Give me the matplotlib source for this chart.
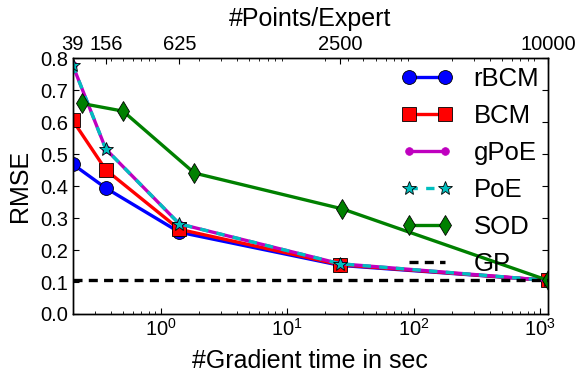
import matplotlib
matplotlib.use("Agg")
import matplotlib.pyplot as plt
from matplotlib.ticker import FixedLocator, FormatStrFormatter, NullLocator

plt.rcParams.update({
    "font.family": ["Liberation Sans", "DejaVu Sans"],
    "font.size": 14,
    "mathtext.fontset": "custom",
    "mathtext.rm": "Liberation Sans",
    "mathtext.it": "Liberation Sans:italic",
    "mathtext.bf": "Liberation Sans:bold",
    "mathtext.default": "regular",
    "xtick.direction": "in",
    "ytick.direction": "in",
    "xtick.major.size": 4,
    "xtick.minor.size": 2,
    "ytick.major.size": 4,
    "ytick.minor.size": 2,
    "xtick.labelsize": 14.5,
    "ytick.labelsize": 14.5,
    "axes.labelsize": 18,
    "legend.fontsize": 18.5,
    "lines.markeredgewidth": 0.6,
    "lines.scale_dashes": False,
    "axes.linewidth": 1.0,
})

# training time (s) per configuration, shared by the distributed GP methods
grad_time = [0.2, 0.366, 1.397, 26.3, 1157]
# subset-of-data baseline timings
sod_time = [0.236, 0.50, 1.84, 27.2, 1157]
points_per_expert = ["39", "156", "625", "2500", "10000"]

rmse_rbcm = [0.469, 0.394, 0.256, 0.152, 0.105]
rmse_bcm = [0.606, 0.451, 0.265, 0.154, 0.105]
rmse_gpoe = [0.779, 0.516, 0.282, 0.157, 0.105]
rmse_poe = [0.779, 0.516, 0.282, 0.157, 0.105]
rmse_sod = [0.659, 0.635, 0.441, 0.329, 0.105]
rmse_gp = 0.106

y_ticks = [0.0, 0.1, 0.2, 0.3, 0.4, 0.5, 0.6, 0.7, 0.8]

fig = plt.figure(figsize=(5.83, 3.72), dpi=100)
ax = fig.add_axes([0.1247, 0.156, 0.8153, 0.687])

lw = 2.4
ax.plot(grad_time, rmse_rbcm, "-", color="b", lw=lw, marker="o", ms=10,
        mfc="b", mec="k", label="rBCM")
ax.plot(grad_time, rmse_bcm, "-", color="r", lw=lw, marker="s", ms=10,
        mfc="r", mec="k", label="BCM")
ax.plot(grad_time, rmse_gpoe, "-", color="m", lw=lw, marker="o", ms=5.5,
        mfc="m", mec="m", label="gPoE")
ax.plot(grad_time, rmse_poe, "--", color="c", lw=lw, dashes=(6, 6), marker="*",
        ms=10, mfc="c", mec="k", label="PoE")
ax.plot(sod_time, rmse_sod, "-", color="g", lw=lw, marker="d", ms=10.5,
        mfc="g", mec="k", label="SOD")
ax.axhline(rmse_gp, color="k", lw=lw, ls="--", dashes=(6.5, 4.5), label="GP")

ax.set_xscale("log")
ax.set_xlim(grad_time[0], grad_time[-1])
ax.set_ylim(y_ticks[0], y_ticks[-1])
ax.yaxis.set_major_locator(FixedLocator(y_ticks))
ax.yaxis.set_major_formatter(FormatStrFormatter("%.1f"))
ax.yaxis.set_minor_locator(NullLocator())
ax.tick_params(axis="y", which="both", left=True, right=True)
ax.tick_params(axis="x", which="major", pad=2.5)
ax.set_xlabel("#Gradient time in sec", labelpad=7)
ax.set_ylabel("RMSE", labelpad=6)

top = ax.twiny()
top.set_xscale("log")
top.set_xlim(ax.get_xlim())
top.set_xticks(grad_time)
top.set_xticklabels(points_per_expert)
top.set_xlabel("#Points/Expert", labelpad=6)
top.tick_params(axis="x", which="major", pad=3.5)

leg = ax.legend(loc="upper right", bbox_to_anchor=(1.0, 1.0), frameon=False,
                numpoints=2, handlelength=2.0, handletextpad=0.8,
                labelspacing=0.5, borderaxespad=0.0, borderpad=0.35)

fig.savefig("out.png", dpi=100, facecolor="white")
